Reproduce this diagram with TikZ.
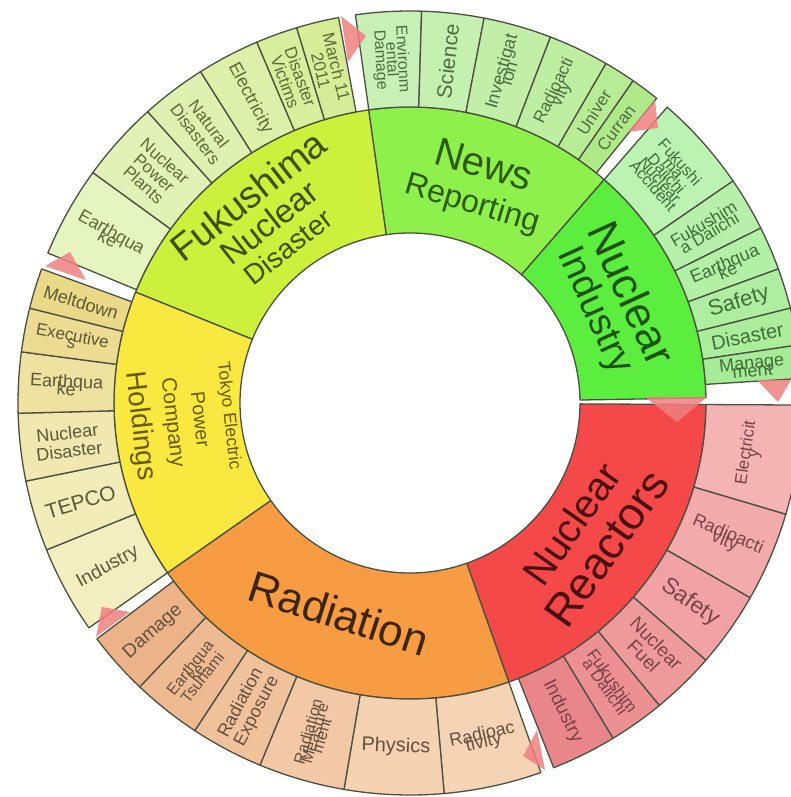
\documentclass[tikz,border=0pt]{standalone}
\usepackage{fontspec}
\setmainfont{Liberation Sans}
\definecolor{segline}{HTML}{4B5040}
\definecolor{markpink}{HTML}{F08080}
\definecolor{fukutext}{HTML}{3D5200}
\definecolor{newstext}{HTML}{2E5A12}
\definecolor{indtext}{HTML}{1F5210}
\definecolor{reactext}{HTML}{4A1010}
\definecolor{radtext}{HTML}{3D2608}
\definecolor{tepcotext}{HTML}{6B5A00}
\definecolor{fukuout}{HTML}{5E6A38}
\definecolor{newsout}{HTML}{4E6E42}
\definecolor{indout}{HTML}{426E3A}
\definecolor{reacout}{HTML}{7A4446}
\definecolor{radout}{HTML}{65503E}
\definecolor{tepcoout}{HTML}{5E5838}
\tikzset{
	seg/.style={draw=segline, line width=1.3pt, line join=round},
	marker/.style={fill=markpink, fill opacity=0.85},
	inner label/.style={inner sep=0pt, transform shape},
	outer label/.style={align=center, inner sep=0pt},
}
\newcommand{\ringseg}[5]{%
	\definecolor{segfill}{HTML}{#5}%
	\filldraw[seg, fill=segfill] (#3:#1) arc[start angle=#3, end angle=#4, radius=#1]
		-- (#4:#2) arc[start angle=#4, end angle=#3, radius=#2] -- cycle;}
\newcommand{\lblfont}[2]{\fontsize{#1}{#2}\selectfont\lineskiplimit=-100pt\lineskip=0pt}

\begin{document}
\begin{tikzpicture}[x=1pt, y=1pt]
	\useasboundingbox (-410,-394) rectangle (381,403);

	\ringseg{170}{296}{98}{158}{CDF03C}
	\ringseg{170}{296}{49}{98}{8EF04A}
	\ringseg{170}{296}{1}{49}{5CEE3E}
	\ringseg{170}{296}{-70.5}{-0.3}{F54848}
	\ringseg{170}{296}{215}{289.5}{F89C44}
	\ringseg{170}{296}{158}{215}{F8E840}

	\ringseg{296}{392}{144}{157.5}{E6F4C0}
	\ringseg{296}{392}{132}{144}{E2F2B6}
	\ringseg{296}{392}{122.3}{132}{E0F0B0}
	\ringseg{296}{392}{113}{122.3}{DDEFA8}
	\ringseg{296}{392}{106.8}{113}{D9EE9C}
	\ringseg{296}{392}{100.5}{106.8}{D6EC96}

	\ringseg{296}{392}{88.3}{98}{C8F0B6}
	\ringseg{296}{392}{79.1}{88.3}{C6F0B0}
	\ringseg{296}{392}{69}{79.1}{C2EEA8}
	\ringseg{296}{392}{60}{69}{BEEEA0}
	\ringseg{296}{392}{55.3}{60}{B8EC94}
	\ringseg{296}{392}{51}{55.3}{B0EA88}

	\ringseg{296}{392}{34.5}{49}{BCF2B2}
	\ringseg{296}{392}{26.5}{34.5}{B6F0AA}
	\ringseg{296}{392}{20}{26.5}{B2F0A6}
	\ringseg{296}{392}{14}{20}{AEEEA0}
	\ringseg{296}{392}{8.5}{14}{AAEE9C}
	\ringseg{296}{392}{3.6}{8.5}{A6EC96}

	\ringseg{296}{392}{-16.5}{-0.3}{F4B4B4}
	\ringseg{296}{392}{-29.8}{-16.5}{F2AAAA}
	\ringseg{296}{392}{-41}{-29.8}{F0A2A4}
	\ringseg{296}{392}{-50.5}{-41}{EE9A9C}
	\ringseg{296}{392}{-58.8}{-50.5}{EC9094}
	\ringseg{296}{392}{-68.5}{-58.8}{E8868C}

	\ringseg{296}{392}{275}{289.5}{F5D4B6}
	\ringseg{296}{392}{260.3}{275}{F5D2B2}
	\ringseg{296}{392}{247.5}{260.3}{F2C8A6}
	\ringseg{296}{392}{236.7}{247.5}{F0C29C}
	\ringseg{296}{392}{226.4}{236.7}{EEBA92}
	\ringseg{296}{392}{217}{226.4}{ECB288}

	\ringseg{296}{392}{202}{215}{F3EEC0}
	\ringseg{296}{392}{191.5}{202}{F2ECB8}
	\ringseg{296}{392}{181.5}{191.5}{F0E8B0}
	\ringseg{296}{392}{172.5}{181.5}{EEE2A0}
	\ringseg{296}{392}{166}{172.5}{ECDC92}
	\ringseg{296}{392}{160}{166}{EADA88}

	\begin{scope}[shift={(128:229)}, rotate=38]
		\node (fuku1) [inner label, text=fukutext, font=\fontsize{38}{38}\selectfont] at (0,34) {Fukushima};
		\node (fuku2) [inner label, text=fukutext, font=\fontsize{33}{33}\selectfont] at (0,0) {Nuclear};
		\node (fuku3) [inner label, text=fukutext, font=\fontsize{28}{28}\selectfont] at (0,-31) {Disaster};
	\end{scope}
	\begin{scope}[shift={(72.7:229)}, rotate=-16.5]
		\node (news1) [inner label, text=newstext, font=\fontsize{40}{40}\selectfont] at (0,21) {News};
		\node (news2) [inner label, text=newstext, font=\fontsize{32}{32}\selectfont] at (0,-21) {Reporting};
	\end{scope}
	\begin{scope}[shift={(26.5:227)}, rotate=-65.5]
		\node (ind1) [inner label, text=indtext, font=\fontsize{44}{44}\selectfont] at (0,21) {Nuclear};
		\node (ind2) [inner label, text=indtext, font=\fontsize{38}{38}\selectfont] at (0,-21) {Industry};
	\end{scope}
	\begin{scope}[shift={(-36.6:223)}, rotate=54.75]
		\node (reac1) [inner label, text=reactext, font=\fontsize{40}{40}\selectfont] at (0,21.5) {Nuclear};
		\node (reac2) [inner label, text=reactext, font=\fontsize{45}{45}\selectfont] at (0,-21.5) {Reactors};
	\end{scope}
	\begin{scope}[shift={(251.3:222)}, rotate=-17.75]
		\node (rad1) [inner label, text=radtext, font=\fontsize{44}{44}\selectfont] at (0,0) {Radiation};
	\end{scope}
	\begin{scope}[shift={(184.6:227)}, rotate=-83.5]
		\node (tepco1) [inner label, text=tepcotext, font=\fontsize{17.5}{18}\selectfont] at (0,45) {Tokyo Electric};
		\node (tepco2) [inner label, text=tepcotext, font=\fontsize{19.5}{20}\selectfont] at (0,17) {Power};
		\node (tepco3) [inner label, text=tepcotext, font=\fontsize{21}{21}\selectfont] at (0,-12) {Company};
		\node (tepco4) [inner label, text=tepcotext, font=\fontsize{28}{28}\selectfont] at (0,-44) {Holdings};
	\end{scope}

	\node (f1) [outer label, text=fukuout, font=\lblfont{18}{8}, rotate=-29.25] at (150.75:344) {Earthqua\\ke};
	\node (f2) [outer label, text=fukuout, font=\lblfont{17}{16}, rotate=-42] at (138:344) {Nuclear\\Power\\Plants};
	\node (f3) [outer label, text=fukuout, font=\lblfont{17}{17}, rotate=-52.85] at (127.15:344) {Natural\\Disasters};
	\node (f4) [outer label, text=fukuout, font=\lblfont{18}{18}, rotate=-62.35] at (117.65:344) {Electricity};
	\node (f5) [outer label, text=fukuout, font=\lblfont{17}{16}, rotate=-70.1] at (109.9:344) {Disaster\\Victims};
	\node (f6) [outer label, text=fukuout, font=\lblfont{17}{16}, rotate=-76.35] at (103.65:344) {March 11\\2011};

	\node (n1) [outer label, text=newsout, font=\lblfont{16}{11}, rotate=-86.85] at (93.15:344) {Environm\\ental\\Damage};
	\node (n2) [outer label, text=newsout, font=\lblfont{21}{21}, rotate=83.7] at (83.7:344) {Science};
	\node (n3) [outer label, text=newsout, font=\lblfont{18}{8}, rotate=74.05] at (74.05:344) {Investigat\\ion};
	\node (n4) [outer label, text=newsout, font=\lblfont{17}{8}, rotate=64.5] at (64.5:344) {Radioacti\\vity};
	\node (n5) [outer label, text=newsout, font=\lblfont{17}{17}, rotate=57.65] at (57.65:344) {Univer};
	\node (n6) [outer label, text=newsout, font=\lblfont{17}{17}, rotate=53.15] at (53.15:344) {Curran};

	\node (i1) [outer label, text=indout, font=\lblfont{16}{9}, rotate=-48.25] at (41.75:344) {Fukushi\\ma\\Daiichi\\Nuclear\\Accident};
	\node (i2) [outer label, text=indout, font=\lblfont{17}{11}, rotate=30.5] at (30.5:344) {Fukushim\\a Daiichi};
	\node (i3) [outer label, text=indout, font=\lblfont{18}{8}, rotate=23.25] at (23.25:344) {Earthqua\\ke};
	\node (i4) [outer label, text=indout, font=\lblfont{22}{22}, rotate=17] at (17:344) {Safety};
	\node (i5) [outer label, text=indout, font=\lblfont{20}{20}, rotate=11.25] at (11.25:344) {Disaster};
	\node (i6) [outer label, text=indout, font=\lblfont{18}{8}, rotate=6.05] at (6.05:344) {Manage\\ment};

	\node (r1) [outer label, text=reacout, font=\lblfont{17}{8}, rotate=81.6] at (-8.4:344) {Electricit\\y};
	\node (r2) [outer label, text=reacout, font=\lblfont{18}{8}, rotate=-23.15] at (-23.15:344) {Radioacti\\vity};
	\node (r3) [outer label, text=reacout, font=\lblfont{23}{23}, rotate=-35.4] at (-35.4:344) {Safety};
	\node (r4) [outer label, text=reacout, font=\lblfont{19}{18}, rotate=-45.75] at (-45.75:344) {Nuclear\\Fuel};
	\node (r5) [outer label, text=reacout, font=\lblfont{17}{9}, rotate=-54.65] at (-54.65:344) {Fukushim\\a Daiichi};
	\node (r6) [outer label, text=reacout, font=\lblfont{19}{19}, rotate=-63.65] at (-63.65:344) {Industry};

	\node (a1) [outer label, text=radout, font=\lblfont{18}{8}, rotate=12.25] at (282.25:344) {Radioac\\tivity};
	\node (a2) [outer label, text=radout, font=\lblfont{20}{20}, rotate=-2.35] at (267.65:344) {Physics};
	\node (a3) [outer label, text=radout, font=\lblfont{16}{7}, rotate=73.9] at (253.9:344) {Radiation\\Measure\\ment};
	\node (a4) [outer label, text=radout, font=\lblfont{18}{18}, rotate=62.1] at (242.1:344) {Radiation\\Exposure};
	\node (a5) [outer label, text=radout, font=\lblfont{16}{8}, rotate=51.55] at (231.55:344) {Earthqua\\ke\\Tsunami};
	\node (a6) [outer label, text=radout, font=\lblfont{19}{19}, rotate=41.7] at (221.7:344) {Damage};

	\node (t1) [outer label, text=tepcoout, font=\lblfont{19}{19}, rotate=28.5] at (208.5:344) {Industry};
	\node (t2) [outer label, text=tepcoout, font=\lblfont{21}{21}, rotate=16.75] at (196.75:344) {TEPCO};
	\node (t3) [outer label, text=tepcoout, font=\lblfont{18}{18}, rotate=6.5] at (186.5:344) {Nuclear\\Disaster};
	\node (t4) [outer label, text=tepcoout, font=\lblfont{18}{8}, rotate=-3] at (177:344) {Earthqua\\ke};
	\node (t5) [outer label, text=tepcoout, font=\lblfont{17}{7}, rotate=-10.75] at (169.25:344) {Executive\\s};
	\node (t6) [outer label, text=tepcoout, font=\lblfont{18}{18}, rotate=-17] at (163:344) {Meltdown};

	\fill[marker] (-69,387) -- (-44,367) -- (-62,341) -- cycle;
	\fill[marker] (218,271) -- (245,303) -- (248,275) -- cycle;
	\fill[marker] (235,6) -- (297,6) -- (267,-19) -- cycle;
	\fill[marker] (347,23) -- (381,23) -- (368,1) -- cycle;
	\fill[marker] (113,-353) -- (127,-327) -- (135,-367) -- cycle;
	\fill[marker] (-314,-234) -- (-308,-204) -- (-280,-209) -- cycle;
	\fill[marker] (-365,137) -- (-340,151) -- (-324,123) -- cycle;
\end{tikzpicture}
\end{document}
